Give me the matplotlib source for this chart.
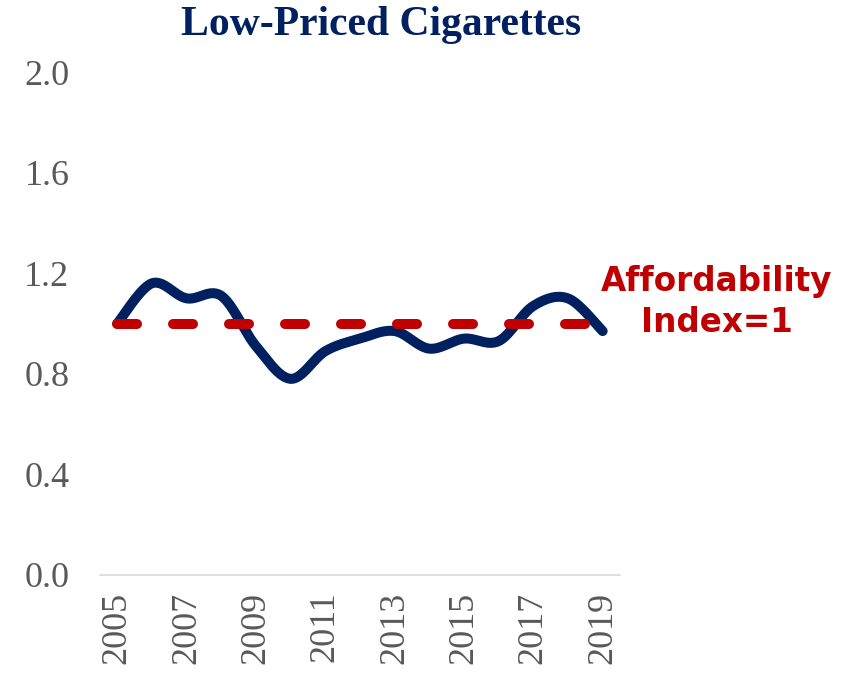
import numpy as np
import matplotlib
matplotlib.use("Agg")
import matplotlib.pyplot as plt

# data
years = list(range(2005, 2020))
index_values = [1.00, 1.16, 1.10, 1.11, 0.91, 0.78, 0.89, 0.94, 0.97, 0.90, 0.94, 0.93, 1.07, 1.10, 0.97]
yticks = [0.0, 0.4, 0.8, 1.2, 1.6, 2.0]
xtick_years = [2005, 2007, 2009, 2011, 2013, 2015, 2017, 2019]
reference_level = 1.0

navy = "#002060"
red = "#C00000"
gray = "#595959"


def smooth(xs, ys, n=30):
    # Excel-like smoothed line: cubic bezier with catmull-rom control points
    xs = np.asarray(xs, float)
    ys = np.asarray(ys, float)
    px, py = [], []
    for i in range(len(xs) - 1):
        x0, y0 = xs[max(i - 1, 0)], ys[max(i - 1, 0)]
        x1, y1 = xs[i], ys[i]
        x2, y2 = xs[i + 1], ys[i + 1]
        x3, y3 = xs[min(i + 2, len(xs) - 1)], ys[min(i + 2, len(xs) - 1)]
        c1x, c1y = x1 + (x2 - x0) / 6, y1 + (y2 - y0) / 6
        c2x, c2y = x2 - (x3 - x1) / 6, y2 - (y3 - y1) / 6
        t = np.linspace(0, 1, n, endpoint=(i == len(xs) - 2))
        a, b, c, d = (1 - t) ** 3, 3 * (1 - t) ** 2 * t, 3 * (1 - t) * t ** 2, t ** 3
        px.extend(a * x1 + b * c1x + c * c2x + d * x2)
        py.extend(a * y1 + b * c1y + c * c2y + d * y2)
    return np.array(px), np.array(py)


fig = plt.figure(figsize=(8.5, 6.74), dpi=100)
ax = fig.add_axes([0.1176, 0.147, 0.6118, 0.746])

sx, sy = smooth(years, index_values)
ax.plot(sx, sy, color=navy, lw=7.2, solid_capstyle="round", solid_joinstyle="round", zorder=2)
ax.plot([years[0], years[-1]], [reference_level, reference_level], color=red, lw=7.2,
        dashes=(2.0, 3.6), dash_capstyle="round", zorder=3)

ax.set_xlim(2004.5, 2019.5)
ax.set_ylim(0, 2.0)
ax.set_yticks(yticks)
ax.set_yticklabels(["%.1f" % v for v in yticks])
ax.set_xticks(xtick_years)
ax.set_xticklabels([str(y) for y in xtick_years], rotation=90)

for s in ["top", "right", "left"]:
    ax.spines[s].set_visible(False)
ax.spines["bottom"].set_color("#D9D9D9")
ax.spines["bottom"].set_linewidth(1.2)
ax.tick_params(length=0, labelsize=26, labelcolor=gray, pad=12)
ax.tick_params(axis="y", pad=22)
for lab in ax.get_xticklabels() + ax.get_yticklabels():
    lab.set_fontfamily("Liberation Serif")

fig.text(381 / 850, 1 - 25 / 674, "Low-Priced Cigarettes", ha="center", va="center",
         fontsize=30, fontweight="bold", color=navy, family="Liberation Serif")
fig.text(717 / 850, 1 - 302 / 674, "Affordability\nIndex=1", ha="center", va="center",
         fontsize=23.5, fontweight="bold", color=red, family="DejaVu Sans", linespacing=1.3)

fig.savefig("out.png", dpi=100)
